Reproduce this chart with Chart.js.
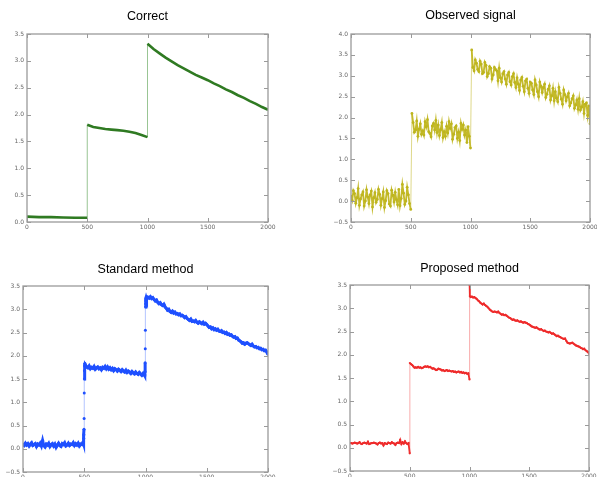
<!DOCTYPE html>
<html>
<head>
<meta charset="utf-8">
<script src="https://cdn.jsdelivr.net/npm/chart.js@4/dist/chart.umd.min.js"></script>
<style>
    html, body { margin: 0; padding: 0; background: #fff; overflow: hidden; width: 597px; height: 477px; }
    canvas { position: absolute; }
</style>
</head>
<body>
<canvas id="c1" width="285" height="227" style="left:-1px;top:9px"></canvas>
<canvas id="c2" width="283" height="228" style="left:323px;top:8px"></canvas>
<canvas id="c3" width="289" height="224" style="left:-5px;top:262px"></canvas>
<canvas id="c4" width="283" height="224" style="left:322px;top:261px"></canvas>
<script>
// ---- data (sample index 0..2000) ----
const X_TICKS = [0, 500, 1000, 1500, 2000];

// Correct (true signal), explicit sample positions
const correctX = [0, 100, 200, 300, 400, 500,
    500, 550, 600, 650, 700, 750, 800, 850, 900, 950, 1000,
    1000, 1050, 1100, 1150, 1200, 1250, 1300, 1350, 1400, 1450, 1500,
    1550, 1600, 1650, 1700, 1750, 1800, 1850, 1900, 1950, 2000];
const correctY = [0.10, 0.09, 0.09, 0.085, 0.08, 0.08,
    1.81, 1.77, 1.75, 1.73, 1.72, 1.71, 1.70, 1.68, 1.655, 1.62, 1.58,
    3.32, 3.22, 3.14, 3.06, 2.99, 2.92, 2.86, 2.80, 2.74, 2.69, 2.64,
    2.58, 2.53, 2.47, 2.42, 2.36, 2.31, 2.25, 2.20, 2.14, 2.09];

// Observed signal, one value every 10 samples
const observedY = [
    0.12, 0.02, 0.25, 0.18, -0.05, 0.08, 0.30, -0.10, 0.05, 0.15,
    0.22, -0.12, 0.00, 0.27, 0.10, -0.06, 0.15, 0.24, -0.14, 0.08,
    0.20, -0.03, 0.04, 0.28, 0.16, -0.10, 0.06, 0.22, -0.15, 0.01,
    0.25, 0.18, -0.07, -0.12, 0.26, 0.14, -0.02, 0.21, 0.03, -0.09,
    0.28, -0.11, 0.06, 0.40, 0.19, -0.08, 0.00, 0.33, 0.15, -0.06, -0.20,
    2.10, 1.88, 1.65, 1.70, 1.92, 1.55, 1.72, 1.85, 1.60, 1.68,
    1.58, 1.90, 1.78, 1.95, 1.66, 1.62, 1.54, 1.80, 1.86, 1.70,
    1.93, 1.64, 1.82, 1.57, 1.71, 1.88, 1.52, 1.66, 1.55, 1.79,
    1.63, 1.90, 1.74, 1.85, 1.48, 1.60, 1.76, 1.80, 1.50, 1.65,
    1.45, 1.86, 1.72, 1.82, 1.58, 1.70, 1.40, 1.78, 1.55, 1.27,
    3.62, 3.20, 3.12, 3.38, 3.30, 3.15, 3.10, 3.35, 3.28, 3.05,
    3.08, 3.32, 3.25, 2.98, 3.05, 3.22, 3.18, 2.92, 3.02, 3.20,
    3.15, 3.12, 2.88, 3.18, 2.95, 2.85, 3.05, 3.10, 2.92, 2.80,
    3.02, 3.08, 2.86, 2.78, 2.98, 3.05, 2.84, 2.72, 2.95, 2.80,
    2.65, 2.90, 2.96, 2.75, 2.62, 2.88, 2.92, 2.70, 2.58, 2.85,
    2.82, 2.66, 2.55, 2.90, 2.78, 2.62, 2.50, 2.85, 2.75, 2.60,
    2.72, 2.80, 2.48, 2.56, 2.68, 2.76, 2.42, 2.52, 2.70, 2.40,
    2.62, 2.46, 2.38, 2.72, 2.58, 2.44, 2.32, 2.66, 2.55, 2.40,
    2.50, 2.58, 2.28, 2.35, 2.45, 2.52, 2.22, 2.30, 2.42, 2.20,
    2.45, 2.18, 2.25, 2.38, 2.10, 2.32, 2.35, 2.05, 2.28, 1.85,
];

// Standard method, every 10 samples, plus the smoothed ramps at the jumps
const standardY = [
    0.10, 0.07, 0.12, 0.08, 0.11, 0.06, 0.10, 0.13, 0.07, 0.09,
    0.11, 0.05, 0.10, 0.08, 0.12, 0.06, 0.18, 0.07, 0.04, 0.10,
    0.08, 0.12, 0.05, 0.09, 0.11, 0.06, 0.10, 0.03, 0.08, 0.12,
    0.07, 0.05, 0.11, 0.09, 0.13, 0.06, 0.08, 0.12, 0.07, 0.10,
    0.09, 0.13, 0.07, 0.11, 0.08, 0.12, 0.06, 0.10, 0.09, 0.14, 1.20,
    1.80, 1.76, 1.74, 1.78, 1.72, 1.75, 1.73, 1.77, 1.71, 1.74,
    1.76, 1.72, 1.74, 1.70, 1.75, 1.73, 1.77, 1.72, 1.76, 1.71,
    1.74, 1.70, 1.73, 1.68, 1.72, 1.70, 1.67, 1.71, 1.69, 1.66,
    1.70, 1.67, 1.65, 1.69, 1.64, 1.67, 1.65, 1.62, 1.66, 1.63,
    1.61, 1.65, 1.62, 1.60, 1.64, 1.61, 1.58, 1.62, 1.59, 3.05,
    3.22, 3.26, 3.24, 3.27, 3.23, 3.25, 3.21, 3.18, 3.20, 3.15,
    3.12, 3.14, 3.10, 3.08, 3.11, 3.05, 3.02, 2.98, 3.00, 2.95,
    2.93, 2.96, 2.92, 2.94, 2.90, 2.91, 2.88, 2.90, 2.86, 2.87,
    2.85, 2.82, 2.84, 2.80, 2.78, 2.76, 2.79, 2.74, 2.75, 2.73,
    2.76, 2.72, 2.70, 2.73, 2.71, 2.69, 2.72, 2.68, 2.70, 2.67,
    2.64, 2.61, 2.62, 2.58, 2.60, 2.56, 2.58, 2.55, 2.57, 2.53,
    2.52, 2.54, 2.50, 2.51, 2.48, 2.50, 2.46, 2.47, 2.44, 2.45,
    2.42, 2.40, 2.41, 2.37, 2.38, 2.34, 2.32, 2.30, 2.27, 2.28,
    2.25, 2.27, 2.28, 2.26, 2.24, 2.22, 2.25, 2.21, 2.19, 2.20,
    2.17, 2.18, 2.15, 2.16, 2.13, 2.14, 2.11, 2.12, 2.08, 2.03,
];
const standardRampX = [492, 494, 496, 497, 498, 499, 501, 502, 503, 505, 507,
    993, 995, 996, 997, 998, 999, 1001, 1002, 1003, 1005, 1007];
const standardRampY = [0.10, 0.15, 0.22, 0.30, 0.42, 0.65, 1.50, 1.68, 1.78, 1.84, 1.79,
    1.60, 1.57, 1.66, 1.85, 2.15, 2.55, 3.12, 3.18, 3.22, 3.25, 3.27];

// Proposed method, every 10 samples, plus the sharp jump points
const proposedY = [
    0.10, 0.10, 0.09, 0.10, 0.11, 0.10, 0.09, 0.10, 0.12, 0.09,
    0.08, 0.10, 0.11, 0.10, 0.09, 0.13, 0.08, 0.09, 0.10, 0.10,
    0.11, 0.10, 0.09, 0.07, 0.10, 0.11, 0.09, 0.10, 0.05, 0.10,
    0.09, 0.08, 0.11, 0.10, 0.09, 0.12, 0.10, 0.09, 0.06, 0.10,
    0.11, 0.10, 0.17, 0.08, 0.12, 0.09, 0.14, 0.10, 0.08, 0.10, -0.12,
    1.80, 1.78, 1.75, 1.72, 1.73, 1.72, 1.74, 1.72, 1.73, 1.71,
    1.72, 1.74, 1.75, 1.74, 1.75, 1.73, 1.74, 1.72, 1.70, 1.71,
    1.69, 1.67, 1.68, 1.70, 1.69, 1.68, 1.66, 1.67, 1.65, 1.66,
    1.67, 1.65, 1.66, 1.65, 1.64, 1.65, 1.63, 1.64, 1.62, 1.63,
    1.64, 1.62, 1.63, 1.61, 1.62, 1.60, 1.61, 1.59, 1.60, 1.47,
    3.24, 3.25, 3.23, 3.24, 3.22, 3.20, 3.17, 3.15, 3.12, 3.10,
    3.08, 3.10, 3.07, 3.05, 3.03, 3.00, 2.97, 2.95, 2.93, 2.92,
    2.93, 2.92, 2.91, 2.93, 2.90, 2.88, 2.86, 2.87, 2.85, 2.86,
    2.84, 2.82, 2.80, 2.79, 2.77, 2.75, 2.76, 2.74, 2.73, 2.74,
    2.72, 2.71, 2.72, 2.70, 2.69, 2.70, 2.69, 2.68, 2.66, 2.65,
    2.63, 2.61, 2.60, 2.59, 2.58, 2.59, 2.57, 2.55, 2.54, 2.55,
    2.53, 2.51, 2.52, 2.50, 2.49, 2.48, 2.49, 2.47, 2.45, 2.46,
    2.44, 2.42, 2.40, 2.41, 2.39, 2.38, 2.36, 2.35, 2.34, 2.35,
    2.30, 2.26, 2.25, 2.24, 2.25, 2.26, 2.24, 2.22, 2.20, 2.19,
    2.18, 2.17, 2.15, 2.14, 2.12, 2.13, 2.10, 2.08, 2.06, 2.02,
];
const proposedJumpX = [501, 1001, 1003];
const proposedJumpY = [1.82, 3.50, 3.26];

// ---- helpers ----
function zip(xs, ys) {
    return xs.map((x, i) => ({ x, y: ys[i] }));
}

function sampled(ys, step, extraX, extraY) {
    const pts = ys.map((y, i) => ({ x: i * step, y }));
    if (extraX) extraX.forEach((x, i) => pts.push({ x, y: extraY[i] }));
    return pts.sort((a, b) => a.x - b.x);
}

function fmtTick(v) {
    return v.toFixed(1).replace('-', '\u2212');
}

// matplotlib-like frame with inward ticks on all four sides
const frameTicks = {
    id: 'frameTicks',
    afterDatasetsDraw(chart) {
        const { ctx, chartArea: a, scales } = chart;
        ctx.save();
        ctx.strokeStyle = '#9a9a9a';
        ctx.lineWidth = 1;
        ctx.beginPath();
        scales.x.ticks.forEach(t => {
            const px = Math.round(scales.x.getPixelForValue(t.value)) + 0.5;
            ctx.moveTo(px, a.bottom); ctx.lineTo(px, a.bottom - 4);
            ctx.moveTo(px, a.top); ctx.lineTo(px, a.top + 4);
        });
        scales.y.ticks.forEach(t => {
            const py = Math.round(scales.y.getPixelForValue(t.value)) + 0.5;
            ctx.moveTo(a.left, py); ctx.lineTo(a.left + 4, py);
            ctx.moveTo(a.right, py); ctx.lineTo(a.right - 4, py);
        });
        ctx.stroke();
        ctx.lineWidth = 1.3;
        ctx.strokeRect(a.left, a.top, a.right - a.left, a.bottom - a.top);
        ctx.restore();
    },
};

function makeChart(id, title, titlePad, yMin, yMax, dataset) {
    return new Chart(document.getElementById(id), {
        type: 'line',
        data: { datasets: [dataset] },
        plugins: [frameTicks],
        options: {
            responsive: false,
            animation: false,
            layout: { padding: { left: 0, right: 16, top: 0, bottom: 0 } },
            plugins: {
                legend: { display: false },
                tooltip: { enabled: false },
                title: {
                    display: true,
                    fullSize: false,
                    text: title,
                    color: '#000',
                    font: { family: 'Liberation Sans', size: 12.5, weight: 'normal', lineHeight: 1.2 },
                    padding: { top: 0, bottom: titlePad },
                },
            },
            scales: {
                x: {
                    type: 'linear',
                    min: 0,
                    max: 2000,
                    afterBuildTicks: s => { s.ticks = X_TICKS.map(v => ({ value: v })); },
                    afterFit: s => { s.height = 14; },
                    grid: { display: false, drawTicks: false },
                    border: { display: false },
                    ticks: {
                        color: '#666',
                        padding: 2,
                        maxRotation: 0,
                        font: { family: 'DejaVu Sans', size: 6 },
                        callback: v => String(v),
                    },
                },
                y: {
                    min: yMin,
                    max: yMax,
                    afterFit: s => { s.width = 28; },
                    grid: { display: false, drawTicks: false },
                    border: { display: false },
                    ticks: {
                        stepSize: 0.5,
                        color: '#666',
                        padding: 3,
                        font: { family: 'DejaVu Sans', size: 6 },
                        callback: v => fmtTick(v),
                    },
                },
            },
        },
    });
}

// thin, pale line across the big jumps, thicker line elsewhere
function lineStyle(color, pale, width, limit) {
    const isJump = ctx => Math.abs(ctx.p1.parsed.y - ctx.p0.parsed.y) > limit;
    return {
        borderColor: color,
        borderWidth: width,
        segment: {
            borderColor: ctx => isJump(ctx) ? pale : color,
            borderWidth: ctx => isJump(ctx) ? 1 : width,
        },
    };
}

makeChart('c1', 'Correct', 10, 0, 3.5, {
    data: zip(correctX, correctY),
    ...lineStyle('#2f7a22', 'rgba(70,150,60,0.55)', 2.6, 0.8),
    pointRadius: 0,
    tension: 0,
});

makeChart('c2', 'Observed signal', 11, -0.5, 4.0, {
    data: sampled(observedY, 10),
    ...lineStyle('#c4ba2a', 'rgba(200,190,60,0.6)', 1.8, 0.8),
    pointRadius: 1.4,
    pointBorderWidth: 0,
    pointBackgroundColor: '#bdb51e',
    tension: 0,
});

makeChart('c3', 'Standard method', 9, -0.5, 3.5, {
    data: sampled(standardY, 10, standardRampX, standardRampY),
    ...lineStyle('#1f50ff', 'rgba(40,90,255,0.35)', 3, 0.2),
    pointRadius: 1.5,
    pointBorderWidth: 0,
    pointBackgroundColor: '#1f50ff',
    tension: 0,
});

makeChart('c4', 'Proposed method', 9, -0.5, 3.5, {
    data: sampled(proposedY, 10, proposedJumpX, proposedJumpY),
    ...lineStyle('#ee2b2b', 'rgba(240,70,70,0.45)', 1.8, 0.3),
    pointRadius: 1.1,
    pointBorderWidth: 0,
    pointBackgroundColor: '#ee2b2b',
    tension: 0,
});
</script>
</body>
</html>
